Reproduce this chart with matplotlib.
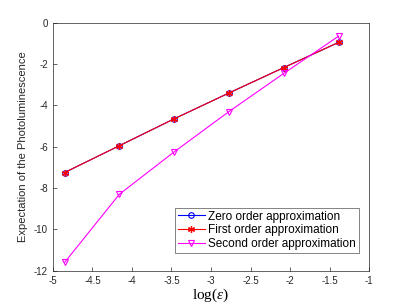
import numpy as np
import matplotlib
matplotlib.use('Agg')
import matplotlib.pyplot as plt

# data
log_eps = [-4.852, -4.159, -3.466, -2.773, -2.079, -1.386]
zero_order = [-7.25, -5.95, -4.65, -3.40, -2.17, -0.95]
first_order = [-7.25, -5.95, -4.65, -3.40, -2.17, -0.95]
second_order = [-11.60, -8.30, -6.25, -4.30, -2.45, -0.65]

plt.rcParams['font.family'] = 'Liberation Sans'
plt.rcParams['mathtext.fontset'] = 'custom'
plt.rcParams['mathtext.rm'] = 'Liberation Serif'
plt.rcParams['mathtext.it'] = 'Liberation Serif:italic'

fig = plt.figure(figsize=(4.07, 3.05), dpi=100)
ax = fig.add_axes([0.130, 0.1125, 0.777, 0.813])

ax.plot(log_eps, zero_order, color='blue', lw=0.8, marker='o', ms=4,
        mfc='none', mew=0.8, label='Zero order approximation')
ax.plot(log_eps, first_order, color='red', lw=0.8, marker=(6, 2, 0), ms=5,
        mew=0.9, label='First order approximation')
ax.plot(log_eps, second_order, color='magenta', lw=0.8, marker='v', ms=5,
        mfc='none', mew=0.8, label='Second order approximation')

ax.set_xlim(-5, -1)
ax.set_ylim(-12, 0)
ax.set_xticks(np.arange(-5, -0.9, 0.5))
ax.set_xticklabels(['-5', '-4.5', '-4', '-3.5', '-3', '-2.5', '-2', '-1.5', '-1'])
ax.set_yticks(np.arange(-12, 1, 2))
ax.set_yticklabels(['-12', '-10', '-8', '-6', '-4', '-2', '0'])
ax.tick_params(direction='in', labelsize=7, colors='#262626', length=3, width=0.5)
for s in ax.spines.values():
    s.set_color('#262626')
    s.set_linewidth(0.5)

ax.set_xlabel(r'$\log(\epsilon)$', fontsize=11, labelpad=1)
ax.set_ylabel('Expectation of the Photoluminescence', fontsize=8, color='#262626')

leg = ax.legend(loc='lower right', bbox_to_anchor=(0.968, 0.071), fontsize=8.5,
                frameon=True, fancybox=False, edgecolor='#262626',
                handlelength=2.3, borderpad=0.25, labelspacing=0.15,
                handletextpad=0.3, borderaxespad=0)
leg.get_frame().set_linewidth(0.5)

fig.savefig('out.png', dpi=100)
